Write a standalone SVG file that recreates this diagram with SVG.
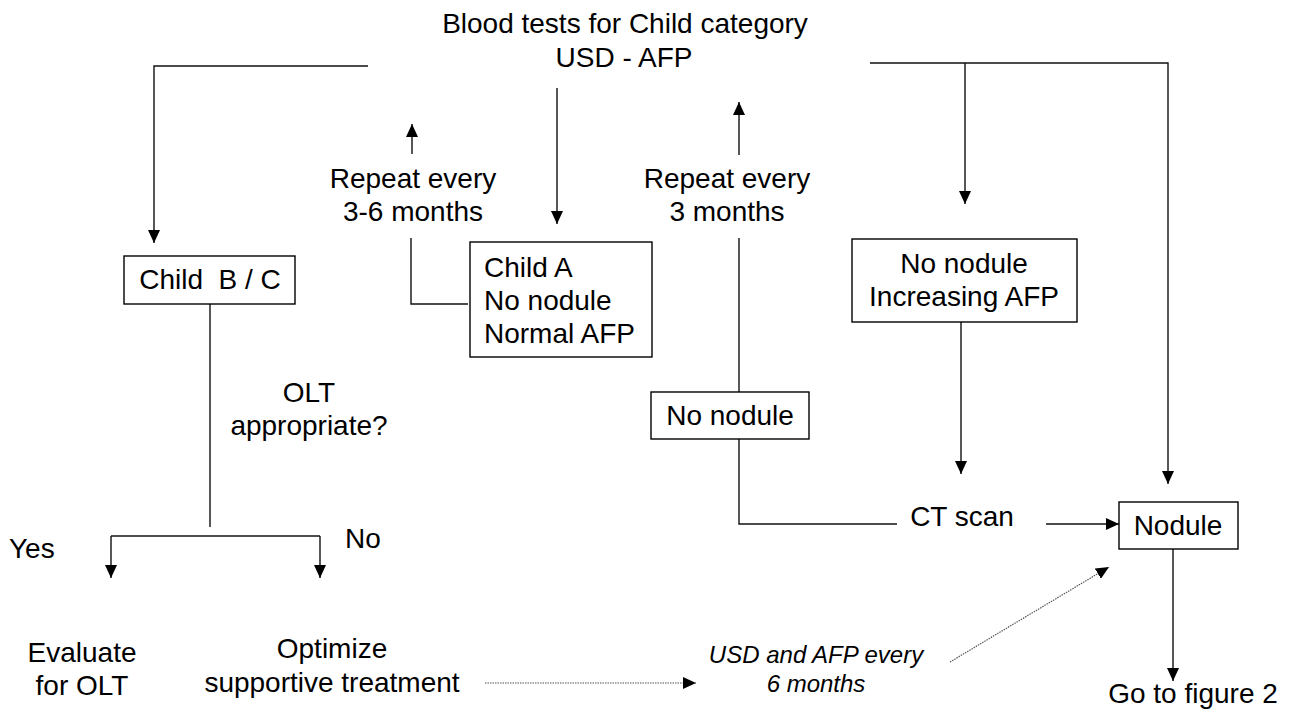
<svg xmlns="http://www.w3.org/2000/svg" width="1293" height="719" viewBox="0 0 1293 719">
<style>
text{font-family:"Liberation Sans",Arial,Helvetica,sans-serif;font-size:28px;fill:#000}
.c{text-anchor:middle}
.it{font-style:italic;font-size:24px}
.box{fill:#fff;stroke:#000;stroke-width:1.4}
.ln{fill:none;stroke:#111;stroke-width:1.4}
.dot{fill:none;stroke:#555;stroke-width:1.2;stroke-dasharray:1.5 1}
</style>
<defs>
<marker id="ah" viewBox="0 0 13 12" refX="13" refY="6" markerWidth="13" markerHeight="12" markerUnits="userSpaceOnUse" orient="auto">
<path d="M0,0 L13,6 L0,12 z" fill="#000"/>
</marker>
</defs>
<rect width="1293" height="719" fill="#fff"/>
<g id="connectors">
<path class="ln" d="M368,66 H154 V243" marker-end="url(#ah)"/>
<path class="ln" d="M557,88 V224" marker-end="url(#ah)"/>
<path class="ln" d="M870,63 H1168 V484" marker-end="url(#ah)"/>
<path class="ln" d="M965,63 V204" marker-end="url(#ah)"/>
<path class="ln" d="M468,304 H411 V238"/>
<path class="ln" d="M412,154 V124" marker-end="url(#ah)"/>
<path class="ln" d="M210,304 V527"/>
<path class="ln" d="M111,536 H320"/>
<path class="ln" d="M111,536 V578" marker-end="url(#ah)"/>
<path class="ln" d="M320,536 V578" marker-end="url(#ah)"/>
<path class="ln" d="M739,392 V238"/>
<path class="ln" d="M739,155 V102" marker-end="url(#ah)"/>
<path class="ln" d="M739,439 V524 H897"/>
<path class="ln" d="M961,322 V474" marker-end="url(#ah)"/>
<path class="ln" d="M1046,524 H1119" marker-end="url(#ah)"/>
<path class="ln" d="M1173,549 V681" marker-end="url(#ah)"/>
<path class="dot" d="M485,683 H696" marker-end="url(#ah)"/>
<path class="dot" d="M950,662 L1109,567" marker-end="url(#ah)"/>
</g>
<g id="title">
<text class="c" x="625" y="33">Blood tests for Child category</text>
<text class="c" x="624" y="67">USD - AFP</text>
</g>
<g id="repeat36">
<text class="c" x="413" y="188">Repeat every</text>
<text class="c" x="413" y="221">3-6 months</text>
</g>
<g id="repeat3">
<text class="c" x="727" y="188">Repeat every</text>
<text class="c" x="727" y="221">3 months</text>
</g>
<g id="childBC">
<rect class="box" x="124" y="256" width="171" height="48"/>
<text class="c" x="210" y="289" xml:space="preserve">Child  B / C</text>
</g>
<g id="childA">
<rect class="box" x="470" y="242" width="182" height="115"/>
<text x="484" y="277">Child A</text>
<text x="484" y="310">No nodule</text>
<text x="484" y="343">Normal AFP</text>
</g>
<g id="increasing">
<rect class="box" x="852" y="239" width="225" height="83"/>
<text class="c" x="964" y="273">No nodule</text>
<text class="c" x="964" y="306">Increasing AFP</text>
</g>
<g id="nonodule">
<rect class="box" x="651" y="392" width="158" height="47"/>
<text class="c" x="730" y="425">No nodule</text>
</g>
<g id="olt">
<text class="c" x="309" y="402">OLT</text>
<text class="c" x="309" y="435">appropriate?</text>
</g>
<g id="yes"><text x="9" y="558">Yes</text></g>
<g id="no"><text x="345" y="548">No</text></g>
<g id="ctscan"><text class="c" x="962" y="526">CT scan</text></g>
<g id="nodule">
<rect class="box" x="1119" y="502" width="119" height="47"/>
<text class="c" x="1178" y="535">Nodule</text>
</g>
<g id="evaluate">
<text class="c" x="82" y="662">Evaluate</text>
<text class="c" x="82" y="695">for OLT</text>
</g>
<g id="optimize">
<text class="c" x="332" y="658">Optimize</text>
<text class="c" x="332" y="692">supportive treatment</text>
</g>
<g id="usd">
<text class="c it" x="816" y="663">USD and AFP every</text>
<text class="c it" x="816" y="692">6 months</text>
</g>
<g id="goto"><text class="c" x="1193" y="703">Go to figure 2</text></g>
</svg>
